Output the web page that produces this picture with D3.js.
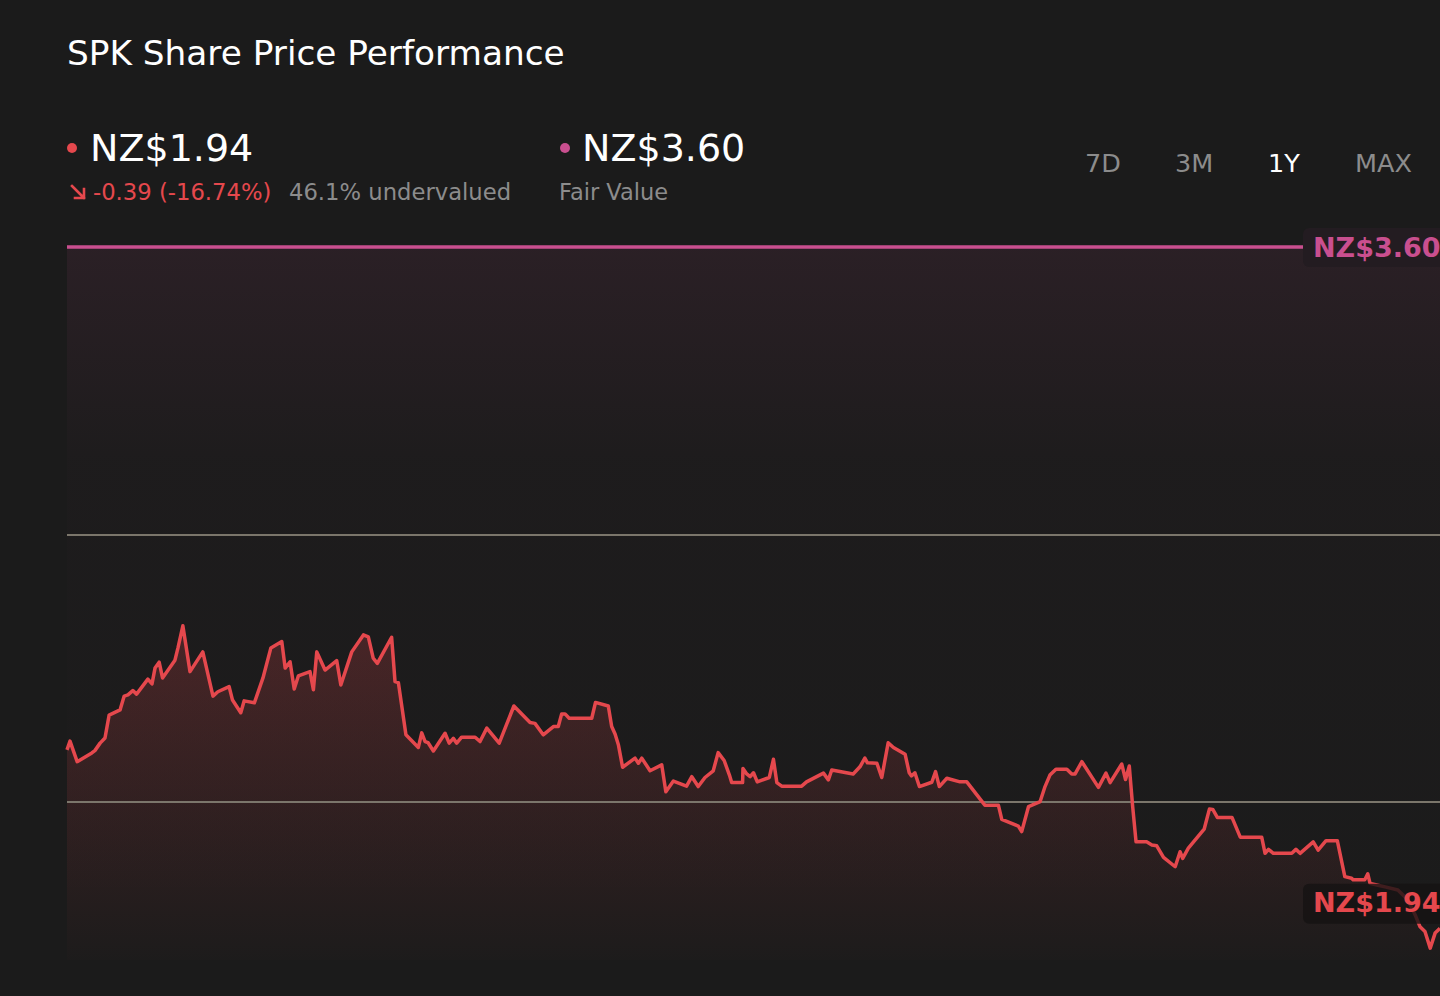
<!DOCTYPE html>
<html>
<head>
<meta charset="utf-8">
<script src="https://cdn.jsdelivr.net/npm/d3@7/dist/d3.min.js"></script>
<style>
  html, body { margin: 0; padding: 0; background: #1b1b1b; }
  svg { display: block; font-family: "DejaVu Sans", sans-serif; }
</style>
</head>
<body>
<svg id="chart" width="1440" height="996"></svg>
<script>
// ---------- data ----------
const title = "SPK Share Price Performance";
const lastPrice = 1.94;
const fairValue = 3.60;
const changeText = "-0.39 (-16.74%)";
const valuationText = "46.1% undervalued";
const fairValueLabel = "Fair Value";
const periodTabs = ["7D", "3M", "1Y", "MAX"];
const activeTab = "1Y";
const gridValues = [2.871, 2.195];

// day offsets within the 1-year window
const days = [0,0.8,2.7,6.6,7.4,8.8,10.1,11.2,14.1,15.2,16.2,17.5,18.5,21.5,22.6,23.4,24.5,25.4,28.7,29.5,
30.8,32.7,36.1,38.8,40.1,43.1,44.0,46.2,47.1,49.8,52.1,54.2,57.1,58.0,59.3,60.4,61.5,64.6,65.5,66.4,
68.6,71.7,72.8,75.7,78.8,80.1,81.4,82.5,86.3,87.2,88.1,90.1,93.4,94.3,95.2,96.0,97.4,100.5,101.6,102.7,
103.6,104.9,108.5,109.8,111.6,114.9,118.8,123.1,124.4,126.6,129.3,130.6,131.5,132.4,133.5,139.5,140.5,143.9,144.8,145.7,
146.6,147.7,151.0,151.9,152.8,155.0,158.1,159.2,161.2,164.7,166.1,167.8,169.6,171.8,173.1,174.7,176.1,176.7,179.6,179.7,
180.7,181.6,182.5,183.5,186.7,187.8,188.7,190.0,195.3,196.6,201.1,202.4,203.3,209.0,210.8,212.1,212.8,215.3,216.6,218.3,
219.7,222.8,223.9,224.5,225.4,226.6,229.9,230.9,231.9,233.9,237.4,239.2,244.0,247.6,248.5,252.9,253.8,255.6,258.7,260.0,
261.3,262.9,265.8,267.1,268.0,269.8,274.2,276.2,277.3,280.4,281.4,282.4,283.3,284.2,287.0,288.4,289.7,291.5,294.6,295.9,
296.6,298.1,302.3,303.7,304.6,305.8,309.7,311.9,317.6,318.5,319.4,320.7,325.6,326.7,327.8,331.3,332.6,334.7,337.7,339.7,
341.5,341.9,345.0,345.8,346.4,348.2,350.4,353.8,356.5,358.4,359.7,361.0,362.4,363.7,365];

const prices = [2.327,2.349,2.297,2.319,2.325,2.344,2.357,2.415,2.428,2.463,2.466,2.477,2.468,2.506,2.494,2.534,2.549,2.509,2.554,2.585,
2.641,2.525,2.575,2.463,2.474,2.487,2.453,2.421,2.451,2.446,2.509,2.585,2.601,2.534,2.550,2.481,2.514,2.525,2.479,2.575,
2.529,2.553,2.491,2.575,2.618,2.613,2.559,2.546,2.612,2.500,2.497,2.365,2.333,2.370,2.348,2.345,2.324,2.369,2.344,2.356,
2.344,2.359,2.359,2.348,2.382,2.344,2.438,2.396,2.394,2.365,2.386,2.386,2.418,2.418,2.407,2.407,2.447,2.438,2.386,2.367,
2.339,2.283,2.306,2.293,2.306,2.274,2.289,2.221,2.248,2.235,2.259,2.234,2.257,2.274,2.320,2.300,2.263,2.244,2.244,2.280,
2.266,2.259,2.269,2.246,2.257,2.303,2.244,2.235,2.235,2.246,2.268,2.251,2.276,2.266,2.284,2.306,2.294,2.293,2.257,2.345,
2.333,2.316,2.269,2.261,2.269,2.234,2.245,2.272,2.234,2.255,2.246,2.246,2.187,2.187,2.151,2.134,2.120,2.183,2.196,2.234,
2.263,2.278,2.278,2.266,2.266,2.297,2.232,2.268,2.244,2.291,2.252,2.286,2.183,2.094,2.094,2.086,2.084,2.055,2.031,2.069,
2.052,2.078,2.126,2.177,2.176,2.156,2.156,2.106,2.106,2.065,2.075,2.065,2.065,2.075,2.065,2.094,2.073,2.097,2.097,2.006,
2.002,1.998,1.998,2.013,1.989,1.985,1.980,1.972,1.947,1.909,1.879,1.867,1.825,1.863,1.875];

const series = days.map((d, i) => ({ day: d, price: prices[i] }));

// ---------- layout ----------
const svg = d3.select("#chart");
const W = 1440, H = 996;
const left = 67, right = 1440, chartBottom = 960;

const x = d3.scaleLinear().domain([0, 365]).range([left, right]);
const y = d3.scaleLinear().domain([fairValue, 1.5]).range([247, 247 + 2.1 * 395]);

const C = {
  bg: "#1b1b1b",
  red: "#e5484d",
  pink: "#c94f8f",
  grid: "#7b766b",
  grey: "#8c8c8c",
  white: "#ffffff"
};

svg.append("rect").attr("width", W).attr("height", H).attr("fill", C.bg);

const defs = svg.append("defs");
const fvGrad = defs.append("linearGradient").attr("id", "fvGrad")
  .attr("gradientUnits", "userSpaceOnUse")
  .attr("x1", 0).attr("x2", 0).attr("y1", y(fairValue)).attr("y2", chartBottom);
fvGrad.append("stop").attr("offset", 0).attr("stop-color", "#c94f8f").attr("stop-opacity", 0.09);
fvGrad.append("stop").attr("offset", 0.3).attr("stop-color", "#c94f8f").attr("stop-opacity", 0.015);
fvGrad.append("stop").attr("offset", 1).attr("stop-color", "#c94f8f").attr("stop-opacity", 0);

const prGrad = defs.append("linearGradient").attr("id", "prGrad")
  .attr("gradientUnits", "userSpaceOnUse")
  .attr("x1", 0).attr("x2", 0).attr("y1", y(d3.max(prices))).attr("y2", chartBottom);
prGrad.append("stop").attr("offset", 0).attr("stop-color", "#e5484d").attr("stop-opacity", 0.22);
prGrad.append("stop").attr("offset", 1).attr("stop-color", "#e5484d").attr("stop-opacity", 0.01);

// ---------- header ----------
svg.append("text").attr("x", 67).attr("y", 65).attr("fill", C.white)
  .attr("font-size", 34.3).text(title);

svg.append("circle").attr("cx", 72).attr("cy", 148).attr("r", 5).attr("fill", C.red);
svg.append("text").attr("x", 90).attr("y", 161).attr("fill", C.white)
  .attr("font-size", 38).text("NZ$" + lastPrice.toFixed(2));

svg.append("circle").attr("cx", 565).attr("cy", 148).attr("r", 5).attr("fill", C.pink);
svg.append("text").attr("x", 582).attr("y", 161).attr("fill", C.white)
  .attr("font-size", 38).text("NZ$" + fairValue.toFixed(2));

// down-right arrow icon
svg.append("path").attr("d", "M72,186 L84,198 M84,189 L84,198 L75,198")
  .attr("fill", "none").attr("stroke", C.red).attr("stroke-width", 2.6)
  .attr("stroke-linecap", "square");
svg.append("text").attr("x", 93).attr("y", 200).attr("fill", C.red)
  .attr("font-size", 22.7).text(changeText);
svg.append("text").attr("x", 289).attr("y", 200).attr("fill", C.grey)
  .attr("font-size", 22.7).text(valuationText);
svg.append("text").attr("x", 559).attr("y", 200).attr("fill", C.grey)
  .attr("font-size", 22.5).text(fairValueLabel);

const tabX = [1085, 1175, 1268, 1355];
svg.selectAll("text.tab").data(periodTabs).join("text")
  .attr("class", "tab")
  .attr("x", (d, i) => tabX[i]).attr("y", 172)
  .attr("font-size", 25.5)
  .attr("fill", d => d === activeTab ? C.white : C.grey)
  .text(d => d);

// ---------- chart ----------
// fair value zone
svg.append("rect")
  .attr("x", left).attr("y", y(fairValue))
  .attr("width", right - left).attr("height", chartBottom - y(fairValue))
  .attr("fill", "url(#fvGrad)");

// price area
const area = d3.area()
  .x(d => x(d.day)).y0(chartBottom).y1(d => y(d.price));
svg.append("path").datum(series).attr("d", area).attr("fill", "url(#prGrad)");

// grid lines
svg.selectAll("line.grid").data(gridValues).join("line")
  .attr("class", "grid")
  .attr("x1", left).attr("x2", right)
  .attr("y1", d => y(d)).attr("y2", d => y(d))
  .attr("stroke", C.grid).attr("stroke-width", 2);

// price line
const line = d3.line().x(d => x(d.day)).y(d => y(d.price));
svg.append("path").datum(series).attr("d", line)
  .attr("fill", "none").attr("stroke", C.red).attr("stroke-width", 3.5)
  .attr("stroke-linejoin", "round");

// fair value line
svg.append("line")
  .attr("x1", left).attr("x2", 1303)
  .attr("y1", y(fairValue)).attr("y2", y(fairValue))
  .attr("stroke", C.pink).attr("stroke-width", 3.5);

// fair value label
svg.append("rect").attr("x", 1303).attr("y", y(fairValue) - 19)
  .attr("width", 150).attr("height", 39).attr("rx", 6)
  .attr("fill", "#231c21");
svg.append("text").attr("x", 1313).attr("y", y(fairValue) + 9.5)
  .attr("fill", C.pink).attr("font-size", 27).attr("font-weight", "bold")
  .text("NZ$" + fairValue.toFixed(2));

// last price label
const lpY = y(lastPrice);
svg.append("rect").attr("x", 1303).attr("y", lpY - 19)
  .attr("width", 150).attr("height", 40).attr("rx", 6)
  .attr("fill", "#151313").attr("fill-opacity", 0.8);
svg.append("text").attr("x", 1313).attr("y", lpY + 9.5)
  .attr("fill", C.red).attr("font-size", 27).attr("font-weight", "bold")
  .text("NZ$" + lastPrice.toFixed(2));
</script>
</body>
</html>
